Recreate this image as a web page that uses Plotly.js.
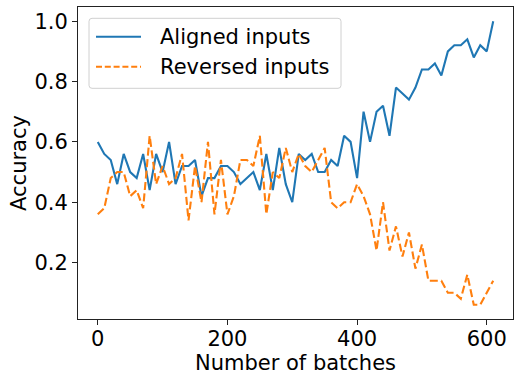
<!DOCTYPE html>
<html>
<head>
<meta charset="utf-8">
<script src="https://cdn.plot.ly/plotly-3.0.1.min.js"></script>
<style>html,body{margin:0;padding:0;background:#fff;}#chart{width:514px;height:378px;}</style>
</head>
<body>
<div id="chart"></div>
<script>
const batches = [];
for (let i = 0; i < 62; i++) batches.push(i * 10);

const alignedAcc = [0.60,0.56,0.54,0.46,0.56,0.50,0.48,0.56,0.44,0.56,
  0.50,0.60,0.46,0.52,0.52,0.54,0.42,0.48,0.48,0.52,
  0.52,0.50,0.46,0.48,0.50,0.44,0.56,0.44,0.58,0.46,
  0.40,0.56,0.54,0.56,0.50,0.50,0.54,0.52,0.62,0.60,
  0.48,0.70,0.60,0.70,0.72,0.62,0.78,0.76,0.74,0.78,
  0.84,0.84,0.86,0.82,0.90,0.92,0.92,0.94,0.88,0.92,
  0.90,1.00];

const reversedAcc = [0.36,0.38,0.48,0.50,0.50,0.42,0.44,0.38,0.62,0.46,
  0.52,0.46,0.48,0.56,0.34,0.52,0.40,0.60,0.36,0.54,
  0.36,0.42,0.54,0.54,0.52,0.62,0.36,0.50,0.48,0.58,
  0.50,0.56,0.52,0.50,0.54,0.58,0.40,0.38,0.40,0.40,
  0.46,0.42,0.36,0.24,0.40,0.24,0.32,0.22,0.30,0.18,
  0.26,0.14,0.14,0.14,0.10,0.10,0.08,0.16,0.06,0.06,
  0.10,0.14];

const seriesNames = ["Aligned inputs", "Reversed inputs"];
const xTicks = [0, 200, 400, 600];
const yTicks = [0.2, 0.4, 0.6, 0.8, 1.0];

const font = "DejaVu Sans, sans-serif";
const colors = ["#1f77b4", "#ff7f0e"];
const dashes = ["solid", "8px,3.5px"];
const lw = 2.1;

const traces = [
  {x: batches, y: alignedAcc, name: seriesNames[0], type: "scatter", mode: "lines",
   line: {color: colors[0], width: lw}},
  {x: batches, y: reversedAcc, name: seriesNames[1], type: "scatter", mode: "lines",
   line: {color: colors[1], width: lw, dash: dashes[1]}}
];

// Plot-area geometry in px (for placing the hand-built legend)
const W = 514, H = 378, mL = 78, mR = 1, mT = 7, mB = 59;
const pw = W - mL - mR, ph = H - mT - mB;
const px = v => (v - mL) / pw;
const py = v => (H - mB - v) / ph;

// rounded legend frame
const bx0 = 89, bx1 = 341, by0 = 18.3, by1 = 88.3, r = 3;
const framePath = [
  `M${px(bx0 + r)},${py(by0)}`,
  `L${px(bx1 - r)},${py(by0)}`,
  `Q${px(bx1)},${py(by0)} ${px(bx1)},${py(by0 + r)}`,
  `L${px(bx1)},${py(by1 - r)}`,
  `Q${px(bx1)},${py(by1)} ${px(bx1 - r)},${py(by1)}`,
  `L${px(bx0 + r)},${py(by1)}`,
  `Q${px(bx0)},${py(by1)} ${px(bx0)},${py(by1 - r)}`,
  `L${px(bx0)},${py(by0 + r)}`,
  `Q${px(bx0)},${py(by0)} ${px(bx0 + r)},${py(by0)}`,
  "Z"
].join(" ");

const rowsY = [36.7, 66.7];
const shapes = [{
  type: "path", xref: "paper", yref: "paper", path: framePath,
  fillcolor: "rgba(255,255,255,0.8)", line: {color: "#d0d0d0", width: 1}, layer: "above"
}];
const annotations = [];
seriesNames.forEach((name, i) => {
  shapes.push({
    type: "line", xref: "paper", yref: "paper",
    x0: px(96), x1: px(141), y0: py(rowsY[i]), y1: py(rowsY[i]),
    line: {color: colors[i], width: lw, dash: i === 0 ? "solid" : "6px,2.8px"}, layer: "above"
  });
  annotations.push({
    xref: "paper", yref: "paper", x: px(158), y: py(rowsY[i]),
    xanchor: "left", yanchor: "middle", showarrow: false, text: name,
    font: {family: font, size: 21, color: "#000"}
  });
});

const axisCommon = {
  showline: true, mirror: true, linecolor: "#222", linewidth: 1,
  ticks: "outside", ticklen: 5, tickwidth: 1, tickcolor: "#222",
  showgrid: false, zeroline: false,
  tickfont: {family: font, size: 21, color: "#000"}
};

const layout = {
  width: W, height: H,
  margin: {l: mL, r: mR, t: mT, b: mB},
  paper_bgcolor: "#fff", plot_bgcolor: "#fff",
  font: {family: font, color: "#000"},
  showlegend: false,
  shapes: shapes,
  annotations: annotations,
  xaxis: Object.assign({}, axisCommon, {
    range: [-30.5, 640.5], tickvals: xTicks, ticktext: xTicks.map(String),
    ticklabelstandoff: -4,
    title: {text: "Number of batches", font: {family: font, size: 21, color: "#000"}, standoff: 2}
  }),
  yaxis: Object.assign({}, axisCommon, {
    range: [0.013, 1.047], tickvals: yTicks, ticktext: yTicks.map(v => v.toFixed(1)),
    title: {text: "Accuracy", font: {family: font, size: 21, color: "#000"}, standoff: 2}
  })
};

Plotly.newPlot("chart", traces, layout, {displayModeBar: false, staticPlot: true});
</script>
</body>
</html>
